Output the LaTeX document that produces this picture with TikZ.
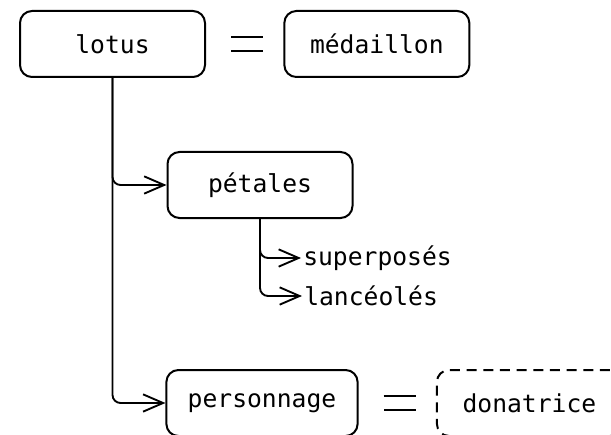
\documentclass[tikz,border=0pt]{standalone}
\usepackage{fontspec}
\setmonofont{DejaVu Sans Mono}
\usetikzlibrary{arrows.meta, positioning}
\tikzset{
  termbox/.style={rectangle, rounded corners=9pt, minimum width=138.75pt, minimum height=49.5pt, inner xsep=16pt, text centered, draw=black, line width=1.5pt, font=\ttfamily\fontsize{18.5}{22}\selectfont},
  openbox/.style={termbox, dashed, dash pattern=on 7.5pt off 5pt},
  leaf/.style={inner sep=1.5pt, anchor=west, font=\ttfamily\fontsize{18.5}{22}\selectfont},
  arrow/.style={line width=1.4pt, rounded corners=6pt, -{Straight Barb[length=15pt, width=13pt, line width=1.4pt]}},
  equal/.style={double, double distance=8.5pt, line width=2pt, shorten <=18.75pt, shorten >=15pt}
}
\begin{document}
\begin{tikzpicture}[x=0.75pt, y=-0.75pt, node distance=0.8cm and 58pt]

  \useasboundingbox (0,0) rectangle (611,435);
  \clip (0,0) rectangle (611,435);

  \node (lotus) [termbox] at (112.5,44) {lotus};
  \node (medaillon) [termbox, right=of lotus] {médaillon};
  \node (petales) [termbox] at (260,185) {pétales};
  \node (superposes) [leaf] at (301,258) {superposés};
  \node (lanceoles) [leaf] at (302,296) {lancéolés};
  \node (personnage) [termbox] at (262,403) {personnage};
  \node (donatrice) [openbox, right=of personnage] {donatrice};

  \draw [equal] (lotus.east) -- (medaillon.west);
  \draw [equal] (personnage.east) -- (donatrice.west);
  \draw [arrow] (lotus.south) |- (petales.west);
  \draw [arrow] (lotus.south) |- (personnage.west);
  \draw [arrow] (petales.south) |- (superposes.west);
  \draw [arrow] (petales.south) |- (lanceoles.west);

\end{tikzpicture}
\end{document}
